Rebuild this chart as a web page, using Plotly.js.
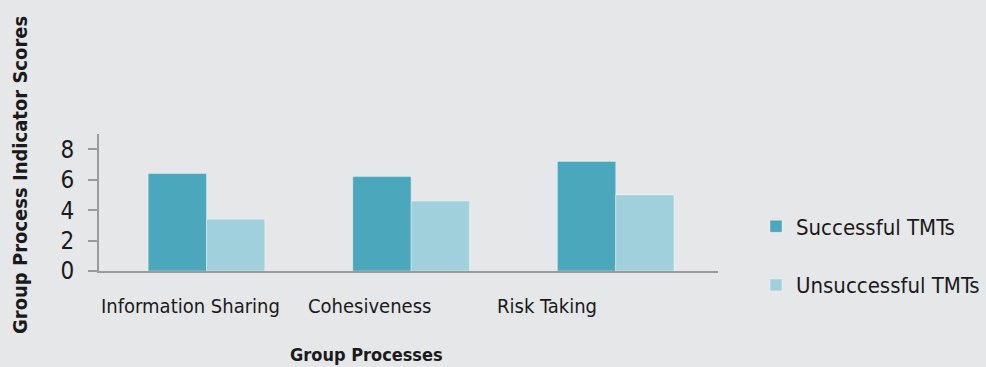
<!DOCTYPE html>
<html>
<head>
<meta charset="utf-8">
<script src="https://cdn.plot.ly/plotly-3.0.1.min.js"></script>
<style>
  html, body { margin: 0; padding: 0; background: #e6e7e9; }
  #chart { width: 986px; height: 367px; }
</style>
</head>
<body>
<div id="chart"></div>
<script>
// Group process indicator scores by team outcome
const categories = ["Information Sharing", "Cohesiveness", "Risk Taking"];
const successful = [6.4, 6.2, 7.2];
const unsuccessful = [3.4, 4.6, 5.0];
const seriesNames = ["Successful TMTs", "Unsuccessful TMTs"];
const yTicks = [0, 2, 4, 6, 8];

const FONT = '"DejaVu Sans Condensed", sans-serif';
const BG = '#e6e7e9';
const INK = '#1a1a1a';

// horizontal nudge of each category label relative to its bar group
const labelShift = [-16, -42, -69];

const traces = [
  {
    type: 'bar', name: seriesNames[0], x: categories, y: successful, legendgroup: 'a',
    marker: { color: '#4aa7bc', line: { color: 'rgba(255,255,255,0.35)', width: 1 } },
    hoverinfo: 'skip'
  },
  {
    type: 'bar', name: seriesNames[1], x: categories, y: unsuccessful, legendgroup: 'b',
    marker: { color: '#a1d0dd', line: { color: 'rgba(255,255,255,0.35)', width: 1 } },
    hoverinfo: 'skip'
  }
];

const annotations = categories.map((c, i) => ({
  text: c, xref: 'x', yref: 'paper', x: c, y: 0, yshift: -35, xshift: labelShift[i],
  xanchor: 'center', yanchor: 'middle', showarrow: false,
  font: { family: FONT, size: 20, color: INK }
}));

annotations.push(
  {
    text: '<b>Group Processes</b>', xref: 'paper', yref: 'paper',
    x: (366 - 99) / 619, y: 0, yshift: -83, xanchor: 'center', yanchor: 'middle',
    showarrow: false, font: { family: FONT, size: 18, color: INK }
  },
  {
    text: '<b>Group Process Indicator Scores</b>', xref: 'paper', yref: 'paper',
    x: 0, xshift: -79, y: (271 - 175) / 137, xanchor: 'center', yanchor: 'middle',
    textangle: -90, showarrow: false, font: { family: FONT, size: 20, color: INK }
  }
);

const layout = {
  width: 986, height: 367,
  paper_bgcolor: BG, plot_bgcolor: BG,
  margin: { l: 99, r: 268, t: 134, b: 96, pad: 0, autoexpand: false },
  barmode: 'group', bargap: 0.43, bargroupgap: 0,
  font: { family: FONT, size: 20, color: INK },
  showlegend: true,
  legend: {
    x: (756 - 99) / 619, xanchor: 'left', y: (271 - 256) / 137, yanchor: 'middle',
    bgcolor: 'rgba(0,0,0,0)', font: { family: FONT, size: 22, color: INK },
    traceorder: 'grouped', tracegroupgap: 27, itemwidth: 30
  },
  xaxis: {
    type: 'category', showgrid: false, zeroline: false,
    showline: true, linecolor: '#9a9a9a', linewidth: 2,
    ticks: '', showticklabels: false
  },
  yaxis: {
    range: [0, 9], tickvals: yTicks, ticktext: yTicks.map(String),
    showgrid: false, zeroline: false,
    showline: true, linecolor: '#9a9a9a', linewidth: 2,
    ticks: 'outside', ticklen: 9, tickwidth: 2, tickcolor: '#9a9a9a',
    ticklabelstandoff: 9,
    tickfont: { family: FONT, size: 24, color: INK }
  },
  annotations: annotations
};

Plotly.newPlot('chart', traces, layout, { staticPlot: true, displayModeBar: false });
</script>
</body>
</html>
